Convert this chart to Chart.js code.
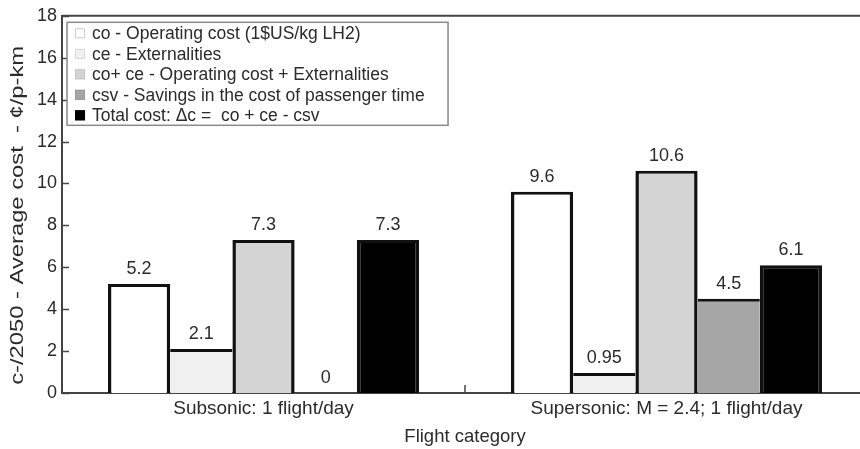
<!DOCTYPE html>
<html>
<head>
<meta charset="utf-8">
<script src="https://cdn.jsdelivr.net/npm/chart.js@4.4.0/dist/chart.umd.min.js"></script>
<style>
  html, body { margin: 0; padding: 0; background: #fff; overflow: hidden; }
  #wrap { width: 870px; height: 449px; }
</style>
</head>
<body>
<div id="wrap"><canvas id="chart"></canvas></div>
<script>
// categories on the x axis
var categories = ['Subsonic: 1 flight/day', 'Supersonic: M = 2.4; 1 flight/day'];

// one array per cost component (cents / p-km)
var operatingCost = [5.2, 9.6];
var externalities = [2.1, 0.95];
var operatingPlusExt = [7.3, 10.6];
var timeSavings = [0, 4.5];
var totalCost = [7.3, 6.1];

// labels printed above the bars
var valueLabels = [
    ['5.2', '9.6'],
    ['2.1', '0.95'],
    ['7.3', '10.6'],
    ['0', '4.5'],
    ['7.3', '6.1']
];

var seriesNames = [
    'co - Operating cost (1$US/kg LH2)',
    'ce - Externalities',
    'co+ ce - Operating cost + Externalities',
    'csv - Savings in the cost of passenger time',
    'Total cost: \u0394c =  co + ce - csv'
];
var yTitle = 'c-/2050 - Average cost  - \u00a2/p-km';
var fills = ['#ffffff', '#f0f0f0', '#d4d4d4', '#a6a6a6', '#000000'];
var swatchBorders = ['#cfcfcf', '#d8d8d8', '#c4c4c4', '#999999', '#000000'];

var textColor = '#2b2b2b';
var axisColor = '#444444';
var fontFamily = 'Arial, "Liberation Sans", sans-serif';

// neighbouring bars share one outline: only the taller side draws it
var barBorder = function (c) {
    var sets = c.chart.data.datasets;
    var i = c.datasetIndex, j = c.dataIndex;
    var v = sets[i].data[j];
    if (!v) return 0;
    var prev = i > 0 ? sets[i - 1].data[j] : 0;
    var next = i < sets.length - 1 ? sets[i + 1].data[j] : 0;
    return { top: 3, bottom: 0, left: prev <= v ? 3.5 : 0, right: next < v ? 3.5 : 0 };
};

var makeSet = function (i, data) {
    return {
        label: seriesNames[i],
        data: data,
        backgroundColor: fills[i],
        borderColor: '#111111',
        borderWidth: barBorder,
        borderSkipped: false,
        barPercentage: 1.0,
        categoryPercentage: 0.772
    };
};

// draws value labels, inward ticks, y title and the boxed legend
var decorations = {
    id: 'decorations',
    afterDatasetsDraw: function (chart) {
        var ctx = chart.ctx;
        var area = chart.chartArea;
        var yScale = chart.scales.y;
        ctx.save();

        // value labels above each bar
        ctx.fillStyle = textColor;
        ctx.font = '18px ' + fontFamily;
        ctx.textAlign = 'center';
        ctx.textBaseline = 'bottom';
        chart.data.datasets.forEach(function (ds, i) {
            var meta = chart.getDatasetMeta(i);
            meta.data.forEach(function (bar, j) {
                ctx.fillText(valueLabels[i][j], bar.x, bar.y - 6);
            });
        }, this);

        // inward ticks on the y axis
        ctx.strokeStyle = axisColor;
        ctx.lineWidth = 1.5;
        yScale.ticks.forEach(function (t) {
            var py = Math.round(yScale.getPixelForValue(t.value)) + 0.5;
            ctx.beginPath();
            ctx.moveTo(area.left, py);
            ctx.lineTo(area.left + 7, py);
            ctx.stroke();
        });

        // tick between the two categories
        var xScale = chart.scales.x;
        var mid = (xScale.getPixelForValue(0) + xScale.getPixelForValue(1)) / 2;
        ctx.beginPath();
        ctx.moveTo(mid, area.bottom);
        ctx.lineTo(mid, area.bottom - 8);
        ctx.stroke();

        // top frame line
        ctx.lineWidth = 2;
        ctx.beginPath();
        ctx.moveTo(area.left, area.top);
        ctx.lineTo(area.right, area.top);
        ctx.stroke();

        // y axis title, stretched along its length like the original
        ctx.save();
        ctx.translate(18, (area.top + area.bottom) / 2 + 11);
        ctx.rotate(-Math.PI / 2);
        ctx.scale(1.32, 1);
        ctx.font = '18px ' + fontFamily;
        ctx.fillStyle = textColor;
        ctx.textAlign = 'center';
        ctx.textBaseline = 'middle';
        ctx.fillText(yTitle, 0, 0);
        ctx.restore();

        // legend box
        var lx = area.left + 5, ly = area.top + 6.5, lw = 381, lh = 103;
        ctx.fillStyle = '#ffffff';
        ctx.fillRect(lx, ly, lw, lh);
        ctx.strokeStyle = '#8a8a8a';
        ctx.lineWidth = 1.5;
        ctx.strokeRect(lx, ly, lw, lh);

        ctx.font = '17.5px ' + fontFamily;
        ctx.textAlign = 'left';
        ctx.textBaseline = 'middle';
        seriesNames.forEach(function (name, i) {
            var cy = ly + 11 + i * 20.5;
            ctx.fillStyle = fills[i];
            ctx.fillRect(lx + 8, cy - 5, 10, 10);
            ctx.strokeStyle = swatchBorders[i];
            ctx.lineWidth = 1;
            ctx.strokeRect(lx + 8.5, cy - 4.5, 9, 9);
            ctx.fillStyle = textColor;
            ctx.fillText(name, lx + 25, cy + 1);
        });

        ctx.restore();
    }
};

new Chart(document.getElementById('chart'), {
    type: 'bar',
    data: {
        labels: categories,
        datasets: [
            makeSet(0, operatingCost),
            makeSet(1, externalities),
            makeSet(2, operatingPlusExt),
            makeSet(3, timeSavings),
            makeSet(4, totalCost)
        ]
    },
    options: {
        responsive: true,
        maintainAspectRatio: false,
        animation: false,
        layout: { padding: { top: -1, right: 2, left: 32, bottom: 1 } },
        plugins: {
            legend: { display: false },
            tooltip: { enabled: false }
        },
        scales: {
            x: {
                grid: { display: false, drawTicks: false },
                border: { color: axisColor, width: 2 },
                ticks: { color: textColor, font: { size: 19, family: fontFamily }, padding: 4 },
                title: {
                    display: true,
                    text: 'Flight category',
                    color: textColor,
                    font: { size: 18.5, family: fontFamily },
                    padding: { top: 2, bottom: 0 }
                }
            },
            y: {
                min: 0,
                max: 18,
                ticks: { stepSize: 2, color: textColor, font: { size: 18, family: fontFamily }, padding: 5 },
                grid: { display: false, drawTicks: false },
                border: { color: axisColor, width: 2 }
            }
        }
    },
    plugins: [decorations]
});
</script>
</body>
</html>
